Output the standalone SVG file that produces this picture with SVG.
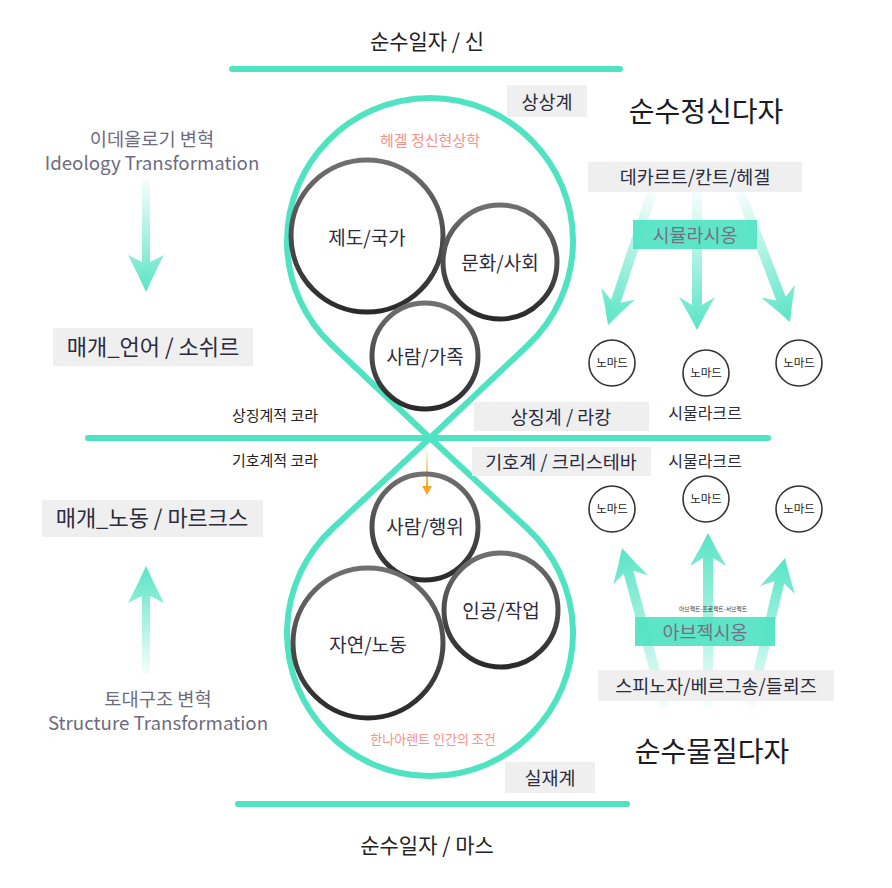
<svg xmlns="http://www.w3.org/2000/svg" width="892" height="888" viewBox="0 0 892 888">
<style>
text{font-family:"Noto Sans CJK KR","Noto Sans",sans-serif;text-anchor:middle}
.t{fill:#2b2b3c;font-size:18.5px}
.big{fill:#1b1b22;font-size:28px}
.ttl{fill:#222;font-size:21px}
.side{fill:#6e6c7e;font-size:18.7px}
.med{fill:#2b2b3c;font-size:22px}
.cap{fill:#222;font-size:15px}
.sal{fill:#f7918a}
.box{fill:#efefef}
.tbox{fill:#50e3c2;opacity:0.92}
.tl{fill:#7a6e84;font-size:18.5px}
.circ{fill:none;stroke:url(#gs);stroke-width:5}
.nm{fill:#fff;stroke:#333;stroke-width:1.6}
.nmt{fill:#222;font-size:11.5px}
.line{stroke:#50e3c2;stroke-width:6;stroke-linecap:round;fill:none}
</style>
<defs>
<linearGradient id="gs" x1="0" y1="0" x2="0" y2="1">
<stop offset="0" stop-color="#707070"/>
<stop offset="1" stop-color="#2a2a2a"/>
</linearGradient>
<linearGradient id="gd" x1="0" y1="0" x2="0" y2="1">
<stop offset="0" stop-color="#50e3c2" stop-opacity="0.05"/>
<stop offset="1" stop-color="#50e3c2" stop-opacity="0.95"/>
</linearGradient>
<linearGradient id="gu" x1="0" y1="0" x2="0" y2="1">
<stop offset="0" stop-color="#50e3c2" stop-opacity="0.95"/>
<stop offset="1" stop-color="#50e3c2" stop-opacity="0.05"/>
</linearGradient>
<linearGradient id="go" x1="0" y1="0" x2="0" y2="1">
<stop offset="0" stop-color="#f5a623" stop-opacity="0.1"/>
<stop offset="1" stop-color="#f5a623" stop-opacity="1"/>
</linearGradient>
</defs>

<g id="connectors">
<line class="line" x1="232" y1="69" x2="620" y2="69"/>
<line class="line" x1="238" y1="804" x2="627" y2="804"/>
<line class="line" x1="88" y1="438" x2="768" y2="438"/>
<path class="line" d="M430 438 L528.4 344.8 A143 143 0 1 0 331.6 344.8 Z M430 438 L527.2 528.2 A143 143 0 1 1 332.8 528.2 Z" stroke-linejoin="round"/>
<path fill="url(#gd)" transform="translate(146 292)" d="M0 0 Q-8 -18 -18 -37 L-4 -30 L-4 -112 L4 -112 L4 -30 L18 -37 Q8 -18 0 0 Z"/>
<path fill="url(#gu)" transform="translate(146 566)" d="M0 0 Q-8 18 -18 37 L-4 30 L-4 108 L4 108 L4 30 L18 37 Q8 18 0 0 Z"/>
<path fill="url(#gd)" transform="translate(608 325) rotate(18.3)" d="M0 0 Q-8 -16 -18 -33 L-5 -25 L-5 -140 L5 -140 L5 -25 L18 -33 Q8 -16 0 0 Z"/>
<path fill="url(#gd)" transform="translate(697 330)" d="M0 0 Q-8 -16 -18 -33 L-5 -25 L-5 -138 L5 -138 L5 -25 L18 -33 Q8 -16 0 0 Z"/>
<path fill="url(#gd)" transform="translate(790 322) rotate(-21)" d="M0 0 Q-8 -16 -18 -33 L-5 -25 L-5 -139 L5 -139 L5 -25 L18 -33 Q8 -16 0 0 Z"/>
<path fill="url(#gu)" transform="translate(622 548) rotate(-15)" d="M0 0 Q-8 16 -18 33 L-5 25 L-5 165 L5 165 L5 25 L18 33 Q8 16 0 0 Z"/>
<path fill="url(#gu)" transform="translate(708 533)" d="M0 0 Q-8 16 -18 33 L-5 25 L-5 174 L5 174 L5 25 L18 33 Q8 16 0 0 Z"/>
<path fill="url(#gu)" transform="translate(785 558) rotate(13.2)" d="M0 0 Q-8 16 -18 33 L-5 25 L-5 153 L5 153 L5 25 L18 33 Q8 16 0 0 Z"/>
<rect x="426" y="450" width="2" height="38" fill="url(#go)"/>
<path d="M422 486 L432 486 L427 495 Z" fill="#f5a623"/>
</g>

<g id="title-top"><text class="ttl" x="427" y="49">순수일자 / 신</text></g>
<g id="title-bottom"><text class="ttl" x="427" y="853">순수일자 / 마스</text></g>

<g id="sangsanggye"><rect class="box" x="507" y="85" width="80" height="32"/><text class="t" x="547" y="109">상상계</text></g>
<g id="siljaegye"><rect class="box" x="505" y="762" width="90" height="31"/><text class="t" x="550" y="785">실재계</text></g>
<g id="pure-mind"><text class="big" x="706" y="122">순수정신다자</text></g>
<g id="pure-matter"><text class="big" x="712" y="762">순수물질다자</text></g>
<g id="hegel-label"><text class="sal" x="430" y="146" style="font-size:15px">헤겔 정신현상학</text></g>
<g id="arendt-label"><text class="sal" x="433" y="744" style="font-size:13px">한나아렌트 인간의 조건</text></g>

<g id="c-jedo"><circle class="circ" cx="367" cy="236" r="76"/><text class="med" x="367" y="245" style="font-size:19px">제도/국가</text></g>
<g id="c-munhwa"><circle class="circ" cx="500" cy="262" r="57"/><text class="med" x="500" y="270" style="font-size:19px">문화/사회</text></g>
<g id="c-saram-gajok"><circle class="circ" cx="425" cy="356" r="53"/><text class="med" x="425" y="364" style="font-size:19px">사람/가족</text></g>
<g id="c-saram-haengwi"><circle class="circ" cx="425" cy="527" r="53"/><text class="med" x="425" y="534" style="font-size:19px">사람/행위</text></g>
<g id="c-ingong"><circle class="circ" cx="501" cy="610" r="57"/><text class="med" x="501" y="618" style="font-size:19px">인공/작업</text></g>
<g id="c-jayeon"><circle class="circ" cx="368" cy="643" r="75"/><text class="med" x="368" y="652" style="font-size:19px">자연/노동</text></g>

<g id="descartes"><rect class="box" x="588" y="162" width="214" height="30"/><text class="t" x="695" y="184">데카르트/칸트/헤겔</text></g>
<g id="simulation"><rect class="tbox" x="633" y="220" width="124" height="29"/><text class="tl" x="695" y="242">시뮬라시옹</text></g>
<g id="abjection"><rect class="tbox" x="635" y="617" width="140" height="29"/><text class="tl" x="705" y="639">아브젝시옹</text></g>
<g id="abject-sub"><text x="713" y="611" style="font-size:5.8px;fill:#333">아브젝트-프로젝트-서브젝트</text></g>
<g id="spinoza"><rect class="box" x="598" y="670" width="236" height="31"/><text class="t" x="716" y="693">스피노자/베르그송/들뢰즈</text></g>

<g id="nomad-1"><circle class="nm" cx="612" cy="363" r="23"/><text class="nmt" x="612" y="367">노마드</text></g>
<g id="nomad-2"><circle class="nm" cx="706" cy="373" r="23"/><text class="nmt" x="706" y="377">노마드</text></g>
<g id="nomad-3"><circle class="nm" cx="799" cy="363" r="23"/><text class="nmt" x="799" y="367">노마드</text></g>
<g id="nomad-4"><circle class="nm" cx="612" cy="509" r="23"/><text class="nmt" x="612" y="513">노마드</text></g>
<g id="nomad-5"><circle class="nm" cx="706" cy="499" r="23"/><text class="nmt" x="706" y="503">노마드</text></g>
<g id="nomad-6"><circle class="nm" cx="799" cy="509" r="23"/><text class="nmt" x="799" y="513">노마드</text></g>

<g id="simulacre-top"><text class="t" x="705" y="419" style="font-size:16px">시물라크르</text></g>
<g id="simulacre-bottom"><text class="t" x="705" y="467" style="font-size:16px">시물라크르</text></g>

<g id="lacan"><rect class="box" x="474" y="402" width="175" height="29"/><text class="t" x="561" y="424">상징계 / 라캉</text></g>
<g id="kristeva"><rect class="box" x="472" y="447" width="179" height="29"/><text class="t" x="561" y="469">기호계 / 크리스테바</text></g>
<g id="sym-chora"><text class="cap" x="275" y="421">상징계적 코라</text></g>
<g id="semi-chora"><text class="cap" x="275" y="466">기호계적 코라</text></g>

<g id="ideology"><text class="side" x="152" y="146">이데올로기 변혁</text><text class="side" x="152" y="170">Ideology Transformation</text></g>
<g id="structure"><text class="side" x="158" y="706">토대구조 변혁</text><text class="side" x="158" y="730">Structure Transformation</text></g>
<g id="saussure"><rect class="box" x="53" y="328" width="200" height="38"/><text class="med" x="153" y="355">매개_언어 / 소쉬르</text></g>
<g id="marx"><rect class="box" x="42" y="500" width="221" height="37"/><text class="med" x="152" y="526">매개_노동 / 마르크스</text></g>
</svg>
